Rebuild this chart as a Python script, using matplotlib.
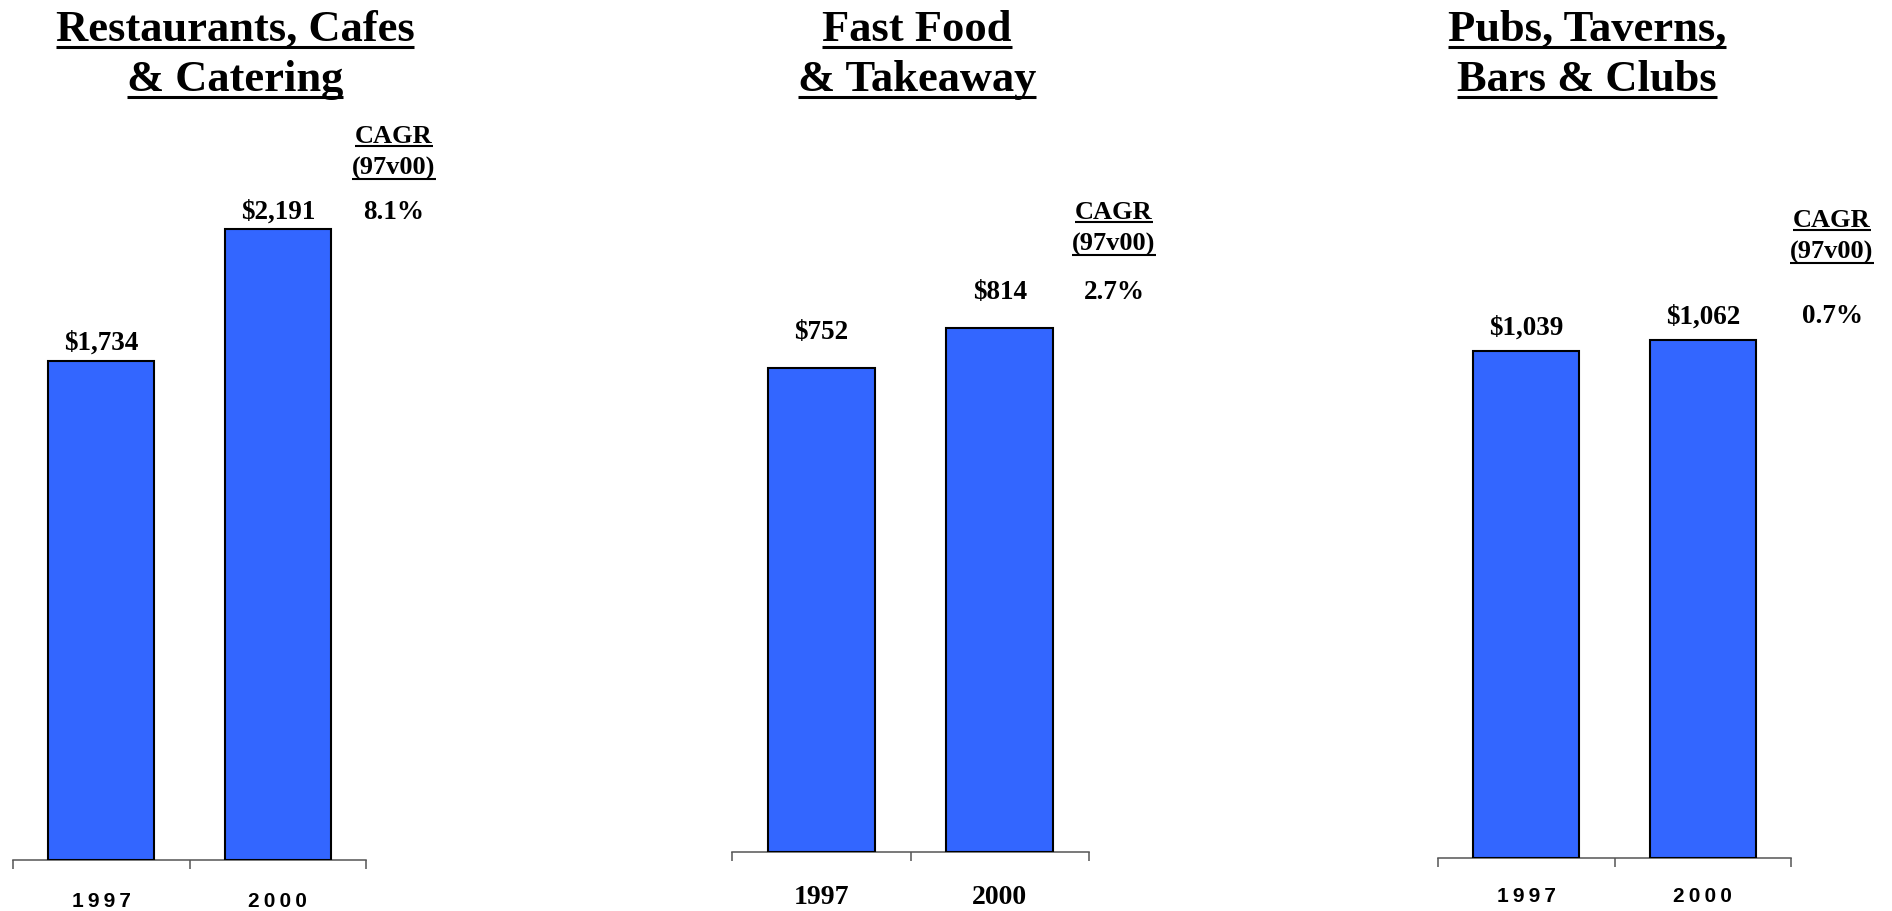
import matplotlib
matplotlib.use("Agg")
import matplotlib.pyplot as plt
from matplotlib.lines import Line2D

# Sales by segment, $m
titles = [
    ["Restaurants, Cafes", "& Catering"],
    ["Fast Food", "& Takeaway"],
    ["Pubs, Taverns,", "Bars & Clubs"],
]
years = ["1997", "2000"]
sales = [
    [1734, 2191],
    [752, 814],
    [1039, 1062],
]
cagr = ["8.1%", "2.7%", "0.7%"]

W, H = 1892, 912
BLUE = "#3366ff"
SERIF = ["Liberation Serif", "DejaVu Serif"]
SANS = ["Liberation Sans", "DejaVu Sans"]

# layout in pixels (left, right, top, baseline)
axes_px = [(13, 366, 150, 861), (732, 1089, 150, 853), (1438, 1791, 150, 859)]
ylim_top = [2469, 1093, 1453]
label_gap = [18, 37, 24]
title_x = [235, 917, 1587]
title_base = [41, 91]
cagr_x = [394, 1114, 1832]
cagr_base = [143, 219, 227]
serif_ticks = [False, True, False]
tick_pad = [22, 23, 20]

fig = plt.figure(figsize=(W / 100, H / 100), dpi=100)
renderer = fig.canvas.get_renderer()


def fy(px):
    return 1 - px / H


def underline(txt, y_px, lw):
    bb = txt.get_window_extent(renderer)
    fig.add_artist(Line2D([bb.x0 / W, bb.x1 / W], [fy(y_px), fy(y_px)],
                          transform=fig.transFigure, color="black", lw=lw,
                          solid_capstyle="butt"))


for i in range(3):
    left, right, top, base = axes_px[i]
    ax = fig.add_axes([left / W, fy(base), (right - left) / W, (base - top) / H])
    xs = range(len(years))
    ax.bar(xs, sales[i], width=0.6, color=BLUE, edgecolor="black", linewidth=1.5,
           zorder=3)
    ax.set_xlim(-0.5, 1.5)
    ax.set_ylim(0, ylim_top[i])
    for s in ["top", "left", "right"]:
        ax.spines[s].set_visible(False)
    ax.spines["bottom"].set_color("#555555")
    ax.spines["bottom"].set_linewidth(1.1)
    ax.set_yticks([])
    ax.set_xticks([-0.5, 0.5, 1.5], ["", "", ""])
    ax.tick_params(axis="x", which="major", length=6.5, width=1.1, color="#555555")
    if serif_ticks[i]:
        ax.set_xticks(list(xs), years, minor=True)
        for t in ax.get_xticklabels(minor=True):
            t.set_fontfamily(SERIF)
            t.set_fontweight("bold")
            t.set_fontsize(20)
    else:
        labels = ["\u2009".join(y) for y in years]
        ax.set_xticks(list(xs), labels, minor=True)
        for t in ax.get_xticklabels(minor=True):
            t.set_fontfamily(SANS)
            t.set_fontweight("bold")
            t.set_fontsize(15)
    ax.tick_params(axis="x", which="minor", length=0, pad=tick_pad[i])

    for x, v in zip(xs, sales[i]):
        ax.annotate(f"${v:,}", (x, v), xytext=(0, label_gap[i] * 0.72),
                    textcoords="offset points", ha="center", va="center",
                    fontsize=19.5, fontweight="bold", family=SERIF)

    # titles
    for j, line in enumerate(titles[i]):
        t = fig.text(title_x[i] / W, fy(title_base[j]), line, ha="center",
                     va="baseline", fontsize=32, fontweight="bold", family=SERIF)
        underline(t, title_base[j] + 7, 2.2)

    # CAGR block
    t1 = fig.text(cagr_x[i] / W, fy(cagr_base[i]), "CAGR", ha="center",
                  va="baseline", fontsize=19, fontweight="bold", family=SERIF)
    underline(t1, cagr_base[i] + 4, 1.5)
    t2 = fig.text(cagr_x[i] / W, fy(cagr_base[i] + 32), "(97v00)", ha="center",
                  va="baseline", fontsize=19, fontweight="bold", family=SERIF)
    underline(t2, cagr_base[i] + 37, 1.5)
    y_disp = ax.transData.transform((1, sales[i][1]))[1] + label_gap[i]
    fig.text(cagr_x[i] / W, y_disp / H, cagr[i], ha="center", va="center",
             fontsize=19.5, fontweight="bold", family=SERIF)

fig.savefig("out.png", dpi=100)
